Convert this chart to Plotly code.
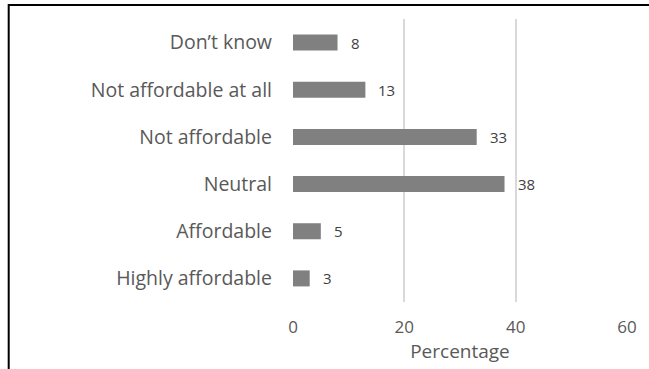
import plotly.graph_objects as go

# Survey responses on affordability (percent of respondents)
categories = ["Highly affordable", "Affordable", "Neutral", "Not affordable",
              "Not affordable at all", "Don\u2019t know"]
percentages = [3, 5, 38, 33, 13, 8]
x_ticks = [0, 20, 40, 60]

W, H = 649, 369
left, right, top, bottom = 293, 20, 19, 67
plot_w = W - left - right
plot_h = H - top - bottom

fig = go.Figure(
    go.Bar(
        x=percentages,
        y=categories,
        orientation="h",
        marker=dict(color="#808080", line=dict(width=0)),
        hoverinfo="skip",
    )
)

# Value labels just to the right of each bar
for cat, val in zip(categories, percentages):
    fig.add_annotation(
        x=val, y=cat, xref="x", yref="y",
        text=str(val), showarrow=False,
        xanchor="left", yanchor="middle", xshift=11,
        font=dict(family="Open Sans", size=15, color="#404040"),
    )

# Frame line along the top and left edges of the figure
bx = (7 - left) / plot_w
by = (H - bottom - 5) / plot_h
fig.add_shape(
    type="path",
    xref="paper", yref="paper",
    path=f"M {bx},-1 L {bx},{by} L 2,{by}",
    line=dict(color="#000000", width=2),
)

fig.update_layout(
    width=W, height=H,
    margin=dict(l=left, r=right, t=top, b=bottom),
    paper_bgcolor="white",
    plot_bgcolor="white",
    bargap=0.66,
    showlegend=False,
    font=dict(family="Open Sans", color="#595959"),
    xaxis=dict(
        range=[0, 60],
        tickvals=x_ticks,
        ticktext=[str(t) for t in x_ticks],
        showgrid=True,
        gridcolor="#d9d9d9",
        gridwidth=1.5,
        zeroline=False,
        showline=False,
        ticks="",
        tickfont=dict(size=17, color="#595959"),
        ticklabelstandoff=13,
        title=dict(text="Percentage", font=dict(size=19, color="#595959"), standoff=0),
    ),
    yaxis=dict(
        categoryorder="array",
        categoryarray=categories,
        showgrid=False,
        zeroline=False,
        showline=False,
        ticks="",
        ticklabelstandoff=20,
        tickfont=dict(size=19.5, color="#595959"),
    ),
)

fig.write_html("out.html")
